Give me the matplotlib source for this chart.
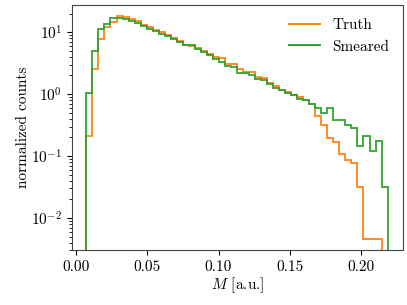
import numpy as np
import matplotlib
matplotlib.use("Agg")
import matplotlib.pyplot as plt
from matplotlib.lines import Line2D

plt.rcParams["font.family"] = "serif"
plt.rcParams["font.serif"] = ["cmr10"]
plt.rcParams["mathtext.fontset"] = "cm"
plt.rcParams["axes.formatter.use_mathtext"] = True
plt.rcParams["font.size"] = 11

# 50 equal bins between the lowest and highest sample
bin_edges = np.linspace(0.007, 0.219, 51)

truth = [0.21, 2.59, 7.7, 12.3, 14.5, 18.0, 17.8, 16.5, 15.3, 13.3,
         12.0, 10.9, 9.9, 8.9, 8.0, 7.2, 6.3, 6.0, 5.5, 5.0,
         4.47, 3.95, 3.8, 3.08, 3.05, 2.53, 2.29, 2.27, 1.88, 1.81,
         1.54, 1.36, 1.18, 1.10, 0.98, 0.90, 0.79, 0.70, 0.45, 0.32,
         0.195, 0.17, 0.107, 0.085, 0.076, 0.032, 0.0046, 0.0046, 0.0046, 0.0]

smeared = [1.03, 5.0, 11.2, 13.6, 17.0, 17.2, 16.6, 15.4, 14.3, 12.6,
           11.4, 10.6, 9.4, 8.7, 7.8, 7.05, 6.2, 6.1, 5.3, 4.86,
           4.30, 3.7, 3.3, 2.80, 2.78, 2.23, 2.18, 2.02, 1.75, 1.70,
           1.47, 1.25, 1.17, 1.06, 0.98, 0.85, 0.80, 0.70, 0.60, 0.50,
           0.59, 0.38, 0.38, 0.32, 0.28, 0.145, 0.21, 0.122, 0.175, 0.032]

fig = plt.figure(figsize=(4.07, 3.05), dpi=100)
ax = fig.add_axes([0.177, 0.179, 0.813, 0.805])

centers = 0.5 * (bin_edges[:-1] + bin_edges[1:])
ax.hist(centers, bins=bin_edges, weights=truth, histtype="step",
        color="tab:orange", lw=1.4, alpha=0.9, log=True)
ax.hist(centers, bins=bin_edges, weights=smeared, histtype="step",
        color="tab:green", lw=1.4, alpha=0.9, log=True)

ax.set_xlim(-0.0031, 0.2298)
ax.set_ylim(0.0030, 27.6)
ax.set_xticks([0.0, 0.05, 0.10, 0.15, 0.20])
ax.set_xticklabels(["0.00", "0.05", "0.10", "0.15", "0.20"])
ax.set_xlabel(r"$M$ [a.u.]", labelpad=1)
ax.set_ylabel("normalized counts")
ax.yaxis.set_label_coords(-0.128, 0.5)

for s in ax.spines.values():
    s.set_color("#444444")

handles = [Line2D([], [], color="tab:orange", lw=1.4),
           Line2D([], [], color="tab:green", lw=1.4)]
ax.legend(handles, ["Truth", "Smeared"], loc="upper right", frameon=False)

fig.savefig("out.png", dpi=100)
